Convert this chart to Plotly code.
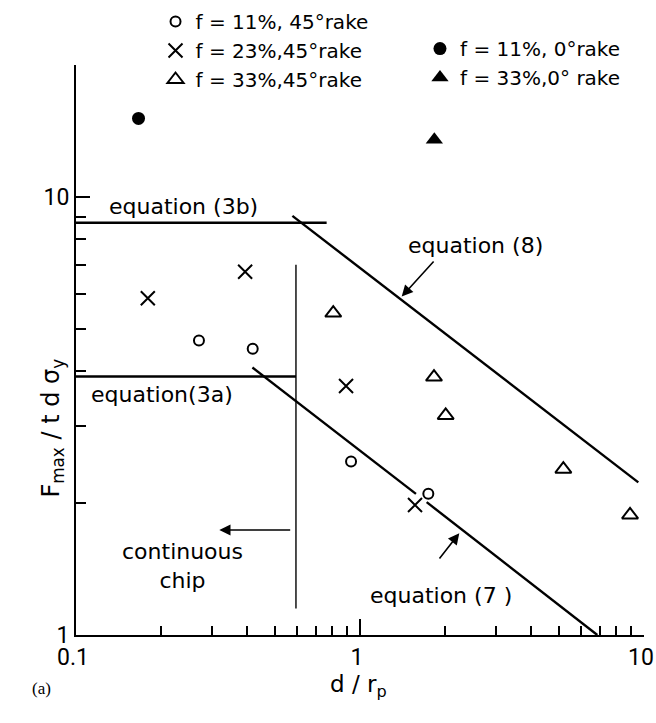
import math
import plotly.graph_objects as go

# Measured points: maximum force ratio vs depth ratio
o45_x = [0.271, 0.419, 0.930, 1.740]
o45_y = [4.70, 4.50, 2.49, 2.10]
x23_x = [0.179, 0.394, 0.893, 1.562]
x23_y = [5.87, 6.75, 3.70, 1.98]
t33_x = [0.805, 1.822, 2.003, 5.20, 8.93]
t33_y = [5.43, 3.88, 3.17, 2.39, 1.88]
f11_x = [0.166]
f11_y = [15.1]
f33_x = [1.827]
f33_y = [13.5]

# Model lines
eq3b_x = [0.1, 0.763]
eq3b_y = [8.73, 8.73]
eq3a_x = [0.1, 0.595]
eq3a_y = [3.89, 3.89]
chip_x = [0.595, 0.595]
chip_y = [1.15, 7.0]
eq8_x = [0.578, 9.55]
eq8_y = [9.05, 2.23]
eq7_x = [0.418, 1.574, None, 1.717, 6.85]
eq7_y = [4.08, 2.10, None, 2.01, 1.0]

x_ticks = [0.1, 1, 10]
x_ticktext = ["0.1", "1", "10"]
x_minor = [0.2, 0.3, 0.4, 0.5, 0.6, 0.7, 0.8, 0.9, 2, 3, 4, 5, 6, 7, 8, 9]
y_ticks = [1, 10]
y_ticktext = ["1", "10"]
y_minor = [2, 3, 4, 5, 6, 7, 8, 9, 20]

TXT = "DejaVu Sans"
NUM = "Roboto"
INK = "black"

fig = go.Figure()

def line(xs, ys, w=2.4):
    fig.add_trace(go.Scatter(x=xs, y=ys, mode="lines", showlegend=False,
                             line=dict(color=INK, width=w), hoverinfo="skip",
                             cliponaxis=False))

line(eq3b_x, eq3b_y)
line(eq3a_x, eq3a_y)
line(chip_x, chip_y, 1.4)
line(eq8_x, eq8_y)
line(eq7_x, eq7_y)

fig.add_trace(go.Scatter(x=o45_x, y=o45_y, mode="markers", name="f = 11%, 45°rake",
                         legend="legend",
                         marker=dict(symbol="circle-open", size=10, color=INK,
                                     line=dict(width=2, color=INK))))
fig.add_trace(go.Scatter(x=x23_x, y=x23_y, mode="markers", name="f = 23%,45°rake",
                         legend="legend",
                         marker=dict(symbol="x-thin-open", size=14, color=INK,
                                     line=dict(width=2, color=INK))))
fig.add_trace(go.Scatter(x=t33_x, y=t33_y, mode="markers", name="f = 33%,45°rake",
                         legend="legend",
                         marker=dict(symbol="triangle-up-open", size=14, color=INK,
                                     line=dict(width=2, color=INK))))
fig.add_trace(go.Scatter(x=f11_x, y=f11_y, mode="markers", name="f = 11%, 0°rake",
                         legend="legend2",
                         marker=dict(symbol="circle", size=13, color=INK)))
fig.add_trace(go.Scatter(x=f33_x, y=f33_y, mode="markers", name="f = 33%,0° rake",
                         legend="legend2",
                         marker=dict(symbol="triangle-up", size=15, color=INK)))

axis_common = dict(
    type="log", showline=True, linewidth=2, linecolor=INK, mirror=False,
    showgrid=False, zeroline=False, ticks="inside", tickcolor=INK, tickwidth=1.5,
    tickfont=dict(family=NUM, size=23, color=INK), ticklabeloverflow="allow",
)
fig.update_xaxes(**axis_common, range=[-1, 1], tickvals=x_ticks, ticktext=x_ticktext,
                 ticklen=16, ticklabelshift=-3,
                 minor=dict(ticks="inside", ticklen=9, tickwidth=1.5, tickcolor=INK,
                            tickvals=x_minor, showgrid=False))
fig.update_yaxes(**axis_common, range=[0, math.log10(20)], tickvals=y_ticks,
                 ticktext=y_ticktext, ticklen=14,
                 minor=dict(ticks="inside", ticklen=10, tickwidth=1.5, tickcolor=INK,
                            tickvals=y_minor, showgrid=False))

ann_font = dict(family=TXT, size=22, color=INK)
annotations = [
    dict(x=-0.6215, y=0.978, text="equation (3b)"),
    dict(x=-0.697, y=0.548, text="equation(3a)"),
    dict(x=0.4067, y=0.888, text="equation (8)"),
    dict(x=0.285, y=0.0913, text="equation (7 )"),
    dict(x=-0.625, y=0.157, text="continuous<br>chip"),
]
for a in annotations:
    fig.add_annotation(xref="x", yref="y", showarrow=False, font=ann_font,
                       xanchor="center", yanchor="middle", **a)

# Pointer arrows
arrows = [
    dict(x=0.1468, y=0.7724, ax=0.264, ay=0.856),
    dict(x=0.3496, y=0.2322, ax=0.2757, ay=0.1712),
    dict(x=-0.4954, y=0.2397, ax=-0.2405, ay=0.2397),
]
for a in arrows:
    fig.add_annotation(xref="x", yref="y", axref="x", ayref="y", text="",
                       showarrow=True, arrowhead=2, arrowsize=1.4, arrowwidth=1.6,
                       arrowcolor=INK, standoff=0, **a)

fig.add_annotation(xref="paper", yref="paper", x=-0.0722, y=0.363, showarrow=False,
                   textangle=-90, font=dict(family=TXT, size=24, color=INK),
                   text="F<sub>max</sub> / t d σ<sub>y</sub>")
fig.add_annotation(xref="paper", yref="paper", x=0.4965, y=-0.119, showarrow=False,
                   font=dict(family=TXT, size=23, color=INK),
                   text="d / r<sub>p</sub>")
fig.add_annotation(xref="paper", yref="paper", x=-0.081, y=-0.114, showarrow=False,
                   font=dict(family="Liberation Serif", size=17, color=INK),
                   text="(a)")

leg_font = dict(family=TXT, size=20, color=INK)
fig.update_layout(
    width=656, height=723,
    margin=dict(l=76, r=12, t=65, b=88, autoexpand=False),
    paper_bgcolor="white", plot_bgcolor="white",
    showlegend=True,
    legend=dict(x=0.1400, y=1.1105, xanchor="left", yanchor="top",
                bgcolor="rgba(0,0,0,0)", font=leg_font, tracegroupgap=0,
                itemsizing="trace"),
    legend2=dict(x=0.6056, y=1.063, xanchor="left", yanchor="top",
                 bgcolor="rgba(0,0,0,0)", font=leg_font, tracegroupgap=0,
                 itemsizing="trace"),
)

fig.write_html("out.html")
